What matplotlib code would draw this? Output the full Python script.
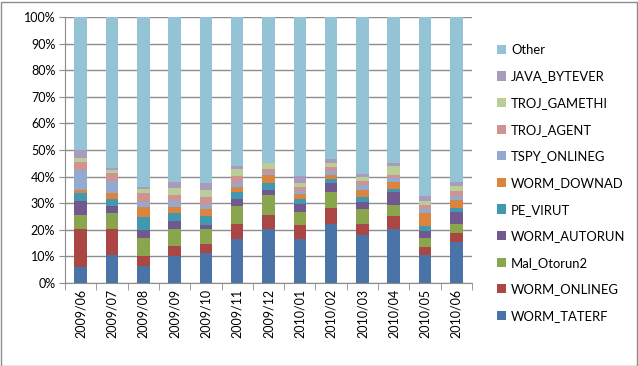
import numpy as np
import matplotlib.pyplot as plt
from matplotlib.patches import Patch, Rectangle

months = ["2009/06", "2009/07", "2009/08", "2009/09", "2009/10", "2009/11", "2009/12",
          "2010/01", "2010/02", "2010/03", "2010/04", "2010/05", "2010/06"]

# shares in percent, bottom to top of each bar
worm_taterf = [5.9, 10.6, 6.5, 10.25, 11.25, 16.6, 20.25, 16.6, 22.25, 18.1, 20.25, 10.6, 15.25]
worm_onlineg = [14.4, 9.6, 3.5, 3.75, 3.5, 5.5, 5.4, 5.1, 6.1, 4.1, 5.0, 2.75, 3.5]
mal_otorun2 = [5.25, 6.25, 7.0, 6.25, 5.5, 7.0, 7.25, 5.1, 6.0, 5.6, 4.0, 3.6, 3.5]
worm_autorun = [5.4, 2.6, 3.0, 3.1, 1.6, 2.5, 1.9, 2.9, 3.25, 2.6, 5.1, 2.6, 4.6]
pe_virut = [2.9, 2.4, 5.0, 3.0, 3.4, 2.75, 2.75, 1.9, 1.4, 2.0, 1.1, 1.9, 1.4]
worm_downad = [1.25, 2.4, 3.6, 2.4, 2.5, 1.75, 3.0, 1.9, 1.5, 2.75, 2.5, 4.9, 3.0]
tspy_onlineg = [7.5, 4.4, 1.9, 2.0, 1.4, 1.6, 0.75, 1.25, 1.5, 1.6, 1.6, 1.4, 1.6]
troj_agent = [2.75, 3.1, 3.25, 2.4, 3.0, 2.4, 1.6, 1.5, 1.5, 1.75, 1.0, 1.6, 1.75]
troj_gamethi = [1.6, 1.1, 1.6, 2.4, 2.9, 2.75, 2.1, 1.25, 1.5, 1.25, 3.25, 1.4, 2.0]
java_bytever = [2.9, 0.9, 0.6, 2.25, 2.5, 1.1, 0.3, 2.75, 1.5, 1.4, 1.4, 2.1, 1.4]

names = ["WORM_TATERF", "WORM_ONLINEG", "Mal_Otorun2", "WORM_AUTORUN", "PE_VIRUT",
         "WORM_DOWNAD", "TSPY_ONLINEG", "TROJ_AGENT", "TROJ_GAMETHI", "JAVA_BYTEVER", "Other"]
colors = ["#4A74A8", "#AA4644", "#89A54E", "#71598F", "#4198AF", "#DB843D",
          "#93A9CF", "#D09393", "#B9CD96", "#A99BBD", "#93C3D4"]

series = [worm_taterf, worm_onlineg, mal_otorun2, worm_autorun, pe_virut,
          worm_downad, tspy_onlineg, troj_agent, troj_gamethi, java_bytever]
known = np.sum(series, axis=0)
other = list(100 - known)
series.append(other)

plt.rcParams["font.family"] = ["Lato", "DejaVu Sans"]

fig = plt.figure(figsize=(6.38, 3.66), dpi=100)
ax = fig.add_axes([65 / 638, 1 - 283 / 366, (472 - 65) / 638, (283 - 17) / 366])

x = np.arange(len(months))
bottom = np.zeros(len(months))
for vals, name, c in zip(series, names, colors):
    ax.bar(x, vals, width=0.4, bottom=bottom, color=c, label=name, zorder=3)
    bottom += np.array(vals)

ax.set_xlim(-0.5, len(months) - 0.5)
ax.set_ylim(0, 100)
ax.set_yticks(np.arange(0, 101, 10))
ax.set_yticklabels([f"{v}%" for v in range(0, 101, 10)], fontsize=9)
ax.yaxis.grid(True, color="#8C8C8C", lw=1, zorder=0)
ax.set_xticks(x)
ax.set_xticklabels(months, rotation=90, fontsize=9)
ax.set_xticks(np.arange(-0.5, len(months)), minor=True)
ax.tick_params(axis="x", which="major", length=0, pad=4)
ax.tick_params(axis="x", which="minor", length=5, color="#8C8C8C", direction="out")
ax.tick_params(axis="y", length=4, color="#8C8C8C", pad=3)
for s in ["top", "right"]:
    ax.spines[s].set_visible(False)
for s in ["left", "bottom"]:
    ax.spines[s].set_color("#8C8C8C")

handles = [Patch(facecolor=c, label=n) for n, c in zip(names, colors)][::-1]
fig.legend(handles=handles, loc="center left", bbox_to_anchor=(485 / 638, 1 - 183 / 366),
           frameon=False, fontsize=9.4, handlelength=0.7, handleheight=0.7,
           handletextpad=0.4, labelspacing=1.12)

fig.patches.append(Rectangle((0.5 / 638, 0.5 / 366), 636 / 638, 364 / 366,
                             transform=fig.transFigure, fill=False,
                             edgecolor="#8C8C8C", lw=1))

fig.savefig("out.png", dpi=100)
